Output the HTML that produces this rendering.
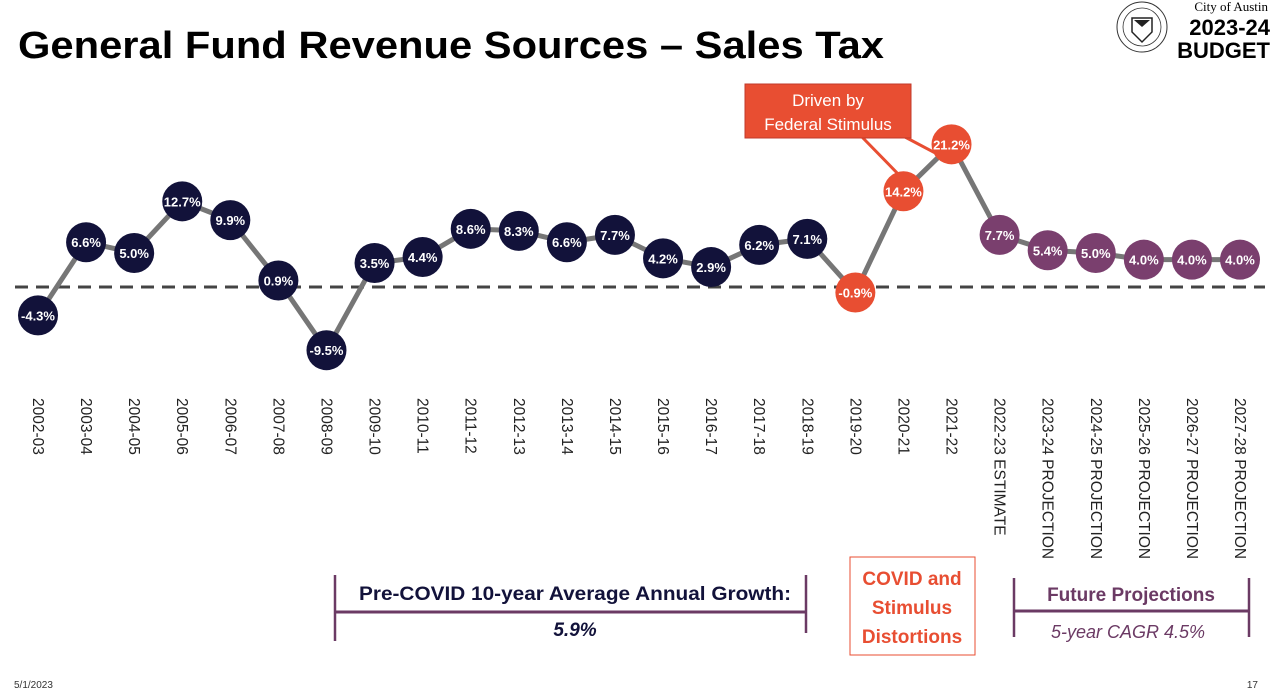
<!DOCTYPE html>
<html><head><meta charset="utf-8"><style>
html,body{margin:0;padding:0;background:#fff;width:1275px;height:699px;overflow:hidden}
svg{display:block;font-family:"Liberation Sans",sans-serif}
</style></head><body>
<svg id="chart" width="1275" height="699" viewBox="0 0 1275 699">
<text x="18" y="58" font-size="38" font-weight="bold" textLength="866" lengthAdjust="spacingAndGlyphs" fill="#000">General Fund Revenue Sources – Sales Tax</text>
<g>
<circle cx="1142" cy="27" r="25" fill="none" stroke="#333" stroke-width="1"/>
<circle cx="1142" cy="27" r="19" fill="none" stroke="#333" stroke-width="0.8"/>
<path d="M1132 18 L1152 18 L1152 32 L1142 42 L1132 32 Z" fill="none" stroke="#222" stroke-width="1.5"/>
<path d="M1134 20 L1150 20 L1142 27 Z" fill="#222"/>
</g>
<text x="1268" y="11" font-size="13" font-family="Liberation Serif,serif" text-anchor="end">City of Austin</text>
<text x="1270" y="35" font-size="22" font-weight="bold" text-anchor="end">2023-24</text>
<text x="1270" y="58" font-size="22" font-weight="bold" text-anchor="end">BUDGET</text>
<line x1="15" y1="287" x2="1265" y2="287" stroke="#444" stroke-width="3" stroke-dasharray="13,8"/>
<g id="lines"></g><g id="callout"></g><g id="points"></g><g id="xlabels"></g>
<g>
<line x1="335" y1="575" x2="335" y2="641" stroke="#6b3a64" stroke-width="2.5"/>
<line x1="806" y1="575" x2="806" y2="633" stroke="#6b3a64" stroke-width="2.5"/>
<line x1="335" y1="612" x2="806" y2="612" stroke="#6b3a64" stroke-width="3"/>
<text x="575" y="600" font-size="19" font-weight="bold" fill="#12123a" text-anchor="middle" textLength="432" lengthAdjust="spacingAndGlyphs">Pre-COVID 10-year Average Annual Growth:</text>
<text x="575" y="636" font-size="19" font-weight="bold" font-style="italic" fill="#12123a" text-anchor="middle">5.9%</text>
</g>
<g>
<rect x="850" y="557" width="125" height="98" fill="#fff" stroke="#e84e32" stroke-width="1"/>
<text x="912" y="585" font-size="19" font-weight="bold" fill="#e84e32" text-anchor="middle">COVID and</text>
<text x="912" y="614" font-size="19" font-weight="bold" fill="#e84e32" text-anchor="middle">Stimulus</text>
<text x="912" y="643" font-size="19" font-weight="bold" fill="#e84e32" text-anchor="middle">Distortions</text>
</g>
<g>
<line x1="1014" y1="578" x2="1014" y2="637" stroke="#6b3a64" stroke-width="2.5"/>
<line x1="1249" y1="578" x2="1249" y2="637" stroke="#6b3a64" stroke-width="2.5"/>
<line x1="1014" y1="611" x2="1249" y2="611" stroke="#6b3a64" stroke-width="3"/>
<text x="1131" y="601" font-size="19" font-weight="bold" fill="#6b3a64" text-anchor="middle">Future Projections</text>
<text x="1128" y="638" font-size="18" font-style="italic" fill="#6b3a64" text-anchor="middle">5-year CAGR 4.5%</text>
</g>
<text x="14" y="688" font-size="10" fill="#333">5/1/2023</text>
<text x="1258" y="688" font-size="10" fill="#333" text-anchor="end">17</text>
</svg>
<script>
const categories=["2002-03","2003-04","2004-05","2005-06","2006-07","2007-08","2008-09","2009-10","2010-11","2011-12","2012-13","2013-14","2014-15","2015-16","2016-17","2017-18","2018-19","2019-20","2020-21","2021-22","2022-23 ESTIMATE","2023-24 PROJECTION","2024-25 PROJECTION","2025-26 PROJECTION","2026-27 PROJECTION","2027-28 PROJECTION"];
const growth=[-4.3,6.6,5.0,12.7,9.9,0.9,-9.5,3.5,4.4,8.6,8.3,6.6,7.7,4.2,2.9,6.2,7.1,-0.9,14.2,21.2,7.7,5.4,5.0,4.0,4.0,4.0];
const groups=["hist","hist","hist","hist","hist","hist","hist","hist","hist","hist","hist","hist","hist","hist","hist","hist","hist","covid","covid","covid","proj","proj","proj","proj","proj","proj"];
const NS="http://www.w3.org/2000/svg";
const colors={hist:"#12123a",covid:"#e84e32",proj:"#7a3f6e"};
function xs(i){return 38+i*(1240-38)/(categories.length-1);}
function ys(v){return 286.5-v*6.706;}
function mk(tag,attrs,parent){const e=document.createElementNS(NS,tag);for(const k in attrs)e.setAttribute(k,attrs[k]);parent.appendChild(e);return e;}
const L=document.getElementById('lines'),P=document.getElementById('points'),X=document.getElementById('xlabels'),C=document.getElementById('callout');
let d="";growth.forEach((v,i)=>{d+=(i?"L":"M")+xs(i)+" "+ys(v);});
const pl=mk('path',{d:d,fill:"none",stroke:"#767676","stroke-width":5,"stroke-linejoin":"round"},L);


growth.forEach((v,i)=>{
 const g=mk('g',{},P);
 
 
 mk('circle',{cx:xs(i),cy:ys(v),r:20,fill:colors[groups[i]]},g);
 const t=mk('text',{x:xs(i),y:ys(v)+5,"font-size":13,"font-weight":"bold",fill:"#fff","text-anchor":"middle"},g);
 t.textContent=v.toFixed(1)+"%";
 const lx=xs(i)-5,ly=398;
 const tl=mk('text',{x:lx,y:ly,"font-size":15.5,fill:"#222",transform:`rotate(90 ${lx} ${ly})`},X);
 
 
 tl.textContent=categories[i];
});
const i1=categories.indexOf("2020-21"),i2=categories.indexOf("2021-22");
mk('line',{x1:862,y1:137,x2:xs(i1)-6,y2:ys(growth[i1])-18,stroke:"#e84e32","stroke-width":3},C);
mk('line',{x1:905,y1:137,x2:xs(i2)-10,y2:ys(growth[i2])+12,stroke:"#e84e32","stroke-width":3},C);
const cb=mk('rect',{x:745,y:84,width:166,height:54,fill:"#e84e32",stroke:"#c0392b","stroke-width":1},C);


const c1=mk('text',{x:828,y:106,"font-size":17,fill:"#fff","text-anchor":"middle"},C);c1.textContent="Driven by";
const c2=mk('text',{x:828,y:130,"font-size":17,fill:"#fff","text-anchor":"middle"},C);c2.textContent="Federal Stimulus";
</script>
</body></html>
